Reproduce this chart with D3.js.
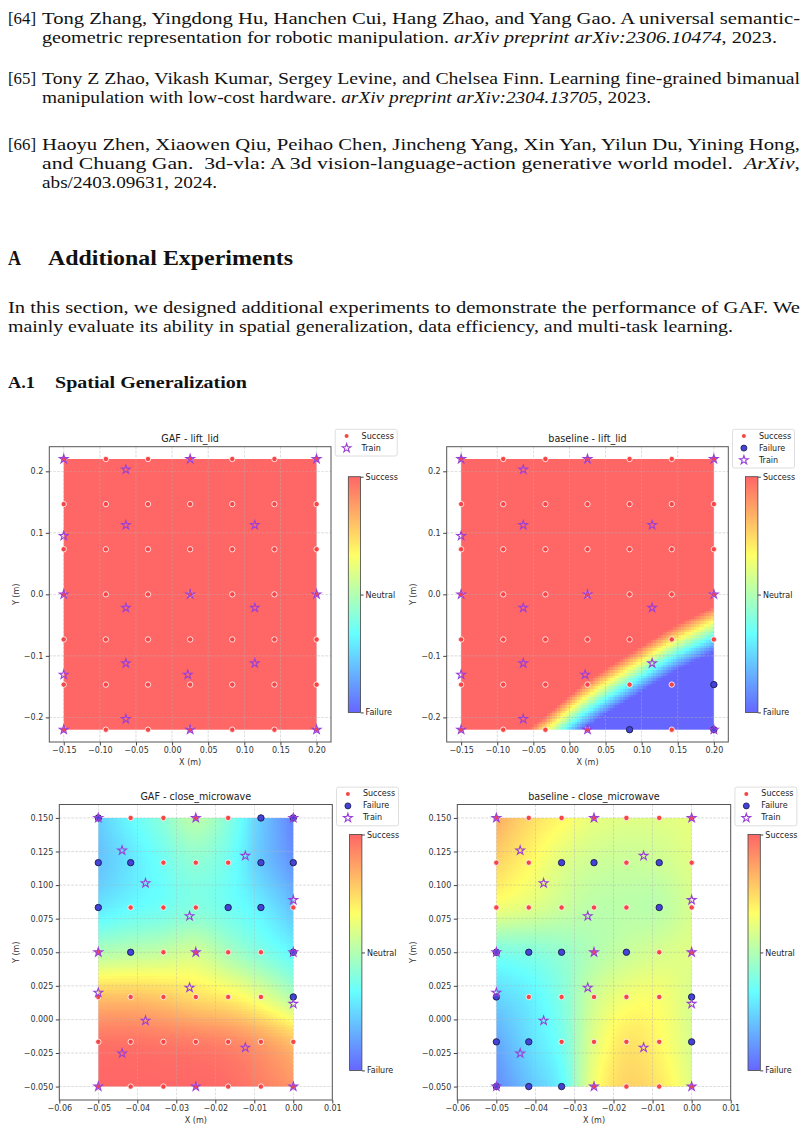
<!DOCTYPE html>
<html>
<head>
<meta charset="utf-8">
<script src="https://cdn.jsdelivr.net/npm/d3@7"></script>
<style>
  body { margin: 0; background: #fff; }
  svg { display: block; }
  text { white-space: pre; }
</style>
</head>
<body>
<svg id="page" width="808" height="1132"></svg>
<script>
// ---- test grid positions ----
const liftX = [-0.15, -0.0917, -0.0333, 0.025, 0.0833, 0.1417, 0.20];
const liftY = [0.22, 0.1467, 0.0733, 0, -0.0733, -0.1467, -0.22];
const microX = [-0.05, -0.0417, -0.0333, -0.025, -0.0167, -0.0083, 0];
const microY = [0.15, 0.1167, 0.0833, 0.05, 0.0167, -0.0167, -0.05];

// ---- outcomes per grid row (top row first), S = success, F = failure ----
const gafLiftOutcome = ['SSSSSSS', 'SSSSSSS', 'SSSSSSS', 'SSSSSSS', 'SSSSSSS', 'SSSSSSS', 'SSSSSSS'];
const baseLiftOutcome = ['SSSSSSS', 'SSSSSSS', 'SSSSSSS', 'SSSSSSS', 'SSSSSSS', 'SSSSSSF', 'SSSSFSF'];
const gafMicroOutcome = ['FSSSSFF', 'FFSSSFF', 'FSSSFFS', 'SFSSSSF', 'SSSSSSF', 'SSSSSSS', 'SSSSSSS'];
const baseMicroOutcome = ['SSSSSSS', 'SSFFSFS', 'SSSSSFS', 'FFFSFSS', 'FSSSSSF', 'FFSSSSF', 'FFFSSSS'];

// ---- training positions ----
const liftTrainX = [-0.15, 0.025, 0.2, -0.064, -0.064, 0.1145, -0.15, -0.15, 0.025, 0.2, -0.064, 0.1145, -0.064, 0.1145, -0.15, 0.0217, -0.064, -0.15, 0.025, 0.2];
const liftTrainY = [0.22, 0.22, 0.22, 0.2028, 0.1126, 0.1126, 0.095, 0, 0, 0, -0.0218, -0.0218, -0.112, -0.112, -0.1306, -0.1306, -0.2026, -0.22, -0.22, -0.22];
const microTrainX = [-0.05, -0.025, 0, -0.0439, -0.0123, -0.0379, 0, -0.0266, -0.05, -0.025, 0, -0.05, -0.0266, 0, -0.0379, -0.0123, -0.0439, -0.05, -0.025, 0];
const microTrainY = [0.15, 0.15, 0.15, 0.1258, 0.1218, 0.1014, 0.0889, 0.0769, 0.05, 0.05, 0.05, 0.0199, 0.0236, 0.0116, -0.0009, -0.021, -0.0253, -0.05, -0.05, -0.05];

// ---- interpolated success score at the grid points (1 success, 0 failure; clipped) ----
const gafLiftField = [
  [1, 1, 1, 1, 1, 1, 1], [1, 1, 1, 1, 1, 1, 1], [1, 1, 1, 1, 1, 1, 1], [1, 1, 1, 1, 1, 1, 1],
  [1, 1, 1, 1, 1, 1, 1], [1, 1, 1, 1, 1, 1, 1], [1, 1, 1, 1, 1, 1, 1]];
const baseLiftField = [
  [8.14, 7.39, 6.63, 5.87, 5.27, 4.70, 4.23],
  [7.15, 6.40, 5.64, 4.88, 4.28, 3.71, 3.24],
  [6.16, 5.40, 4.65, 3.89, 3.29, 2.72, 2.25],
  [5.17, 4.42, 3.66, 2.90, 2.30, 1.73, 1.26],
  [4.18, 3.43, 2.67, 1.91, 1.31, 0.74, 0.27],
  [3.19, 2.43, 1.68, 0.92, 0.32, -0.25, -0.72],
  [2.20, 1.45, 0.69, -0.07, -0.67, -1.24, -1.71]];
const gafMicroField = [
  [0.22, 0.33, 0.42, 0.52, 0.40, 0.22, 0.06],
  [0.20, 0.28, 0.36, 0.42, 0.36, 0.22, 0.10],
  [0.28, 0.33, 0.36, 0.40, 0.36, 0.30, 0.20],
  [0.50, 0.52, 0.54, 0.57, 0.48, 0.40, 0.32],
  [0.80, 0.80, 0.78, 0.74, 0.70, 0.62, 0.50],
  [0.97, 0.97, 0.96, 0.95, 0.93, 0.88, 0.80],
  [1.00, 1.00, 1.00, 1.00, 0.99, 0.95, 0.90]];
const baseMicroField = [
  [0.85, 0.75, 0.68, 0.62, 0.60, 0.60, 0.62],
  [0.76, 0.68, 0.60, 0.56, 0.55, 0.56, 0.60],
  [0.64, 0.60, 0.55, 0.52, 0.52, 0.52, 0.58],
  [0.38, 0.40, 0.44, 0.50, 0.55, 0.58, 0.60],
  [0.24, 0.30, 0.40, 0.56, 0.64, 0.65, 0.58],
  [0.14, 0.26, 0.37, 0.60, 0.72, 0.68, 0.58],
  [0.08, 0.20, 0.32, 0.64, 0.76, 0.72, 0.60]];

// ---- axes ticks ----
const liftXTicks = [-0.15, -0.10, -0.05, 0, 0.05, 0.10, 0.15, 0.20];
const liftYTicks = [-0.2, -0.1, 0, 0.1, 0.2];
const microXTicks = [-0.06, -0.05, -0.04, -0.03, -0.02, -0.01, 0, 0.01];
const microYTicks = [-0.05, -0.025, 0, 0.025, 0.05, 0.075, 0.1, 0.125, 0.15];
const cbarLabels = ['Failure', 'Neutral', 'Success'];

// ---- page text ----
const refs = [
  { label: '[64]', lines: [
    [{ t: 'Tong Zhang, Yingdong Hu, Hanchen Cui, Hang Zhao, and Yang Gao. A universal semantic-' }],
    [{ t: 'geometric representation for robotic manipulation. ' }, { t: 'arXiv preprint arXiv:2306.10474', i: 1 }, { t: ', 2023.' }]] },
  { label: '[65]', lines: [
    [{ t: 'Tony Z Zhao, Vikash Kumar, Sergey Levine, and Chelsea Finn. Learning fine-grained bimanual' }],
    [{ t: 'manipulation with low-cost hardware. ' }, { t: 'arXiv preprint arXiv:2304.13705', i: 1 }, { t: ', 2023.' }]] },
  { label: '[66]', lines: [
    [{ t: 'Haoyu Zhen, Xiaowen Qiu, Peihao Chen, Jincheng Yang, Xin Yan, Yilun Du, Yining Hong,' }],
    [{ t: 'and Chuang Gan.  3d-vla: A 3d vision-language-action generative world model.  ' }, { t: 'ArXiv', i: 1 }, { t: ',' }],
    [{ t: 'abs/2403.09631, 2024.' }]] }
];
const refLayout = [
  { y: [24, 43], ends: [800, 777] },
  { y: [84, 103], ends: [800, 651] },
  { y: [150, 169, 188], ends: [800, 800, 217] }
];
const paraLines = [
  'In this section, we designed additional experiments to demonstrate the performance of GAF. We',
  'mainly evaluate its ability in spatial generalization, data efficiency, and multi-task learning.'];

const svg = d3.select('#page');
const SANS = '"DejaVu Sans", sans-serif';

// pick the first Times-like face that is really installed
function pickSerif() {
  const ctx = document.createElement('canvas').getContext('2d');
  const probe = 'mmmmmwwwwwlllliiiAaBbQq0123';
  const w = f => { ctx.font = '40px ' + f; return ctx.measureText(probe).width; };
  const cands = ['Liberation Serif', 'Tinos', 'Times New Roman', 'Nimbus Roman', 'Nimbus Roman No9 L', 'FreeSerif', 'Noto Serif'];
  for (const c of cands) {
    if (w(`"${c}", monospace`) === w(`"${c}", sans-serif`)) return `"${c}", serif`;
  }
  return 'serif';
}
const SERIF = pickSerif();

function drawLine(x0, x1, y, segs, size, weight) {
  const nodes = segs.map(s => svg.append('text').attr('y', y).style('font-family', SERIF)
    .style('font-size', size + 'px').style('font-weight', weight || 400)
    .style('font-style', s.i ? 'italic' : 'normal').attr('fill', '#111').text(s.t));
  const widths = nodes.map(n => n.node().getComputedTextLength());
  const k = (x1 - x0) / d3.sum(widths);
  let cx = x0;
  nodes.forEach((n, i) => {
    n.attr('x', cx).attr('textLength', widths[i] * k).attr('lengthAdjust', 'spacingAndGlyphs');
    cx += widths[i] * k;
  });
}

refs.forEach((r, ri) => {
  const L = refLayout[ri];
  drawLine(8, 36, L.y[0], [{ t: r.label }], 17.5);
  r.lines.forEach((segs, li) => drawLine(42, L.ends[li], L.y[li], segs, 17.5));
});
drawLine(8, 21, 265, [{ t: 'A' }], 22, 700);
drawLine(48, 293, 265, [{ t: 'Additional Experiments' }], 22, 700);
drawLine(8, 800, 313, [{ t: paraLines[0] }], 17.5);
drawLine(8, 733, 332, [{ t: paraLines[1] }], 17.5);
drawLine(8, 35, 388, [{ t: 'A.1' }], 17.5, 700);
drawLine(55, 247, 388, [{ t: 'Spatial Generalization' }], 17.5, 700);

// ---- colormap: blue -> cyan -> yellow -> red at alpha 0.6 over white ----
const cmap = d3.scaleLinear().domain([0, 1 / 3, 2 / 3, 1])
  .range(['#6666ff', '#66ffff', '#ffff66', '#ff6666']).clamp(true);

function fieldURL(grid, nx, ny) {
  const R = grid.length, C = grid[0].length;
  const g = (r, c) => {
    if (r < 0) return 2 * g(0, c) - g(1, c);
    if (r >= R) return 2 * g(R - 1, c) - g(R - 2, c);
    if (c < 0) return 2 * g(r, 0) - g(r, 1);
    if (c >= C) return 2 * g(r, C - 1) - g(r, C - 2);
    return grid[r][c];
  };
  const cr = (p0, p1, p2, p3, t) => 0.5 * (2 * p1 + (-p0 + p2) * t + (2 * p0 - 5 * p1 + 4 * p2 - p3) * t * t + (-p0 + 3 * p1 - 3 * p2 + p3) * t * t * t);
  const cv = document.createElement('canvas');
  cv.width = nx; cv.height = ny;
  const ctx = cv.getContext('2d');
  const img = ctx.createImageData(nx, ny);
  for (let j = 0; j < ny; j++) {
    const v = (j + 0.5) / ny * (R - 1);
    const r0 = Math.min(Math.floor(v), R - 2), tv = v - r0;
    for (let i = 0; i < nx; i++) {
      const u = (i + 0.5) / nx * (C - 1);
      const c0 = Math.min(Math.floor(u), C - 2), tu = u - c0;
      const rows = [-1, 0, 1, 2].map(d => cr(g(r0 + d, c0 - 1), g(r0 + d, c0), g(r0 + d, c0 + 1), g(r0 + d, c0 + 2), tu));
      const val = Math.max(0, Math.min(1, cr(rows[0], rows[1], rows[2], rows[3], tv)));
      const col = d3.rgb(cmap(val));
      const p = (j * nx + i) * 4;
      img.data[p] = col.r; img.data[p + 1] = col.g; img.data[p + 2] = col.b; img.data[p + 3] = 255;
    }
  }
  ctx.putImageData(img, 0, 0);
  return cv.toDataURL();
}

const panels = [
  { title: 'GAF - lift_lid', xs: liftX, ys: liftY, outcome: gafLiftOutcome, field: gafLiftField,
    trainX: liftTrainX, trainY: liftTrainY, xDom: [-0.17, 0.22], yDom: [-0.24, 0.24],
    xTicks: liftXTicks, yTicks: liftYTicks, xFmt: '.2f', yFmt: '.1f',
    box: [49.3, 446.7, 331, 742], ylab: 16 },
  { title: 'baseline - lift_lid', xs: liftX, ys: liftY, outcome: baseLiftOutcome, field: baseLiftField,
    trainX: liftTrainX, trainY: liftTrainY, xDom: [-0.17, 0.22], yDom: [-0.24, 0.24],
    xTicks: liftXTicks, yTicks: liftYTicks, xFmt: '.2f', yFmt: '.1f',
    box: [446.7, 446.7, 728.3, 742], ylab: 413 },
  { title: 'GAF - close_microwave', xs: microX, ys: microY, outcome: gafMicroOutcome, field: gafMicroField,
    trainX: microTrainX, trainY: microTrainY, xDom: [-0.06, 0.01], yDom: [-0.06, 0.16],
    xTicks: microXTicks, yTicks: microYTicks, xFmt: '.2f', yFmt: '.3f',
    box: [59.3, 804.5, 332.3, 1100], ylab: 16 },
  { title: 'baseline - close_microwave', xs: microX, ys: microY, outcome: baseMicroOutcome, field: baseMicroField,
    trainX: microTrainX, trainY: microTrainY, xDom: [-0.06, 0.01], yDom: [-0.06, 0.16],
    xTicks: microXTicks, yTicks: microYTicks, xFmt: '.2f', yFmt: '.3f',
    box: [457.3, 804.5, 730.7, 1100], ylab: 413 }
];

const defs = svg.append('defs');
const grad = defs.append('linearGradient').attr('id', 'cbar').attr('x1', 0).attr('y1', 1).attr('x2', 0).attr('y2', 0);
cmap.domain().forEach(d => grad.append('stop').attr('offset', d).attr('stop-color', cmap(d)));

const star = d3.symbol(d3.symbolStar, 23.8);
const SUCC = '#f54545', FAIL = '#4343d9', TRAIN = '#9a40d8';

panels.forEach(p => {
  const [L, T, Rr, B] = p.box;
  const x = d3.scaleLinear().domain(p.xDom).range([L, Rr]);
  const y = d3.scaleLinear().domain(p.yDom).range([B, T]);
  const g = svg.append('g');

  // field
  const fx0 = x(p.xs[0]), fx1 = x(p.xs[p.xs.length - 1]);
  const fy0 = y(p.ys[0]), fy1 = y(p.ys[p.ys.length - 1]);
  g.append('image').attr('href', fieldURL(p.field, 100, 100))
    .attr('x', fx0).attr('y', fy0).attr('width', fx1 - fx0).attr('height', fy1 - fy0)
    .attr('preserveAspectRatio', 'none').style('image-rendering', 'pixelated');

  // grid
  g.append('g').selectAll('line').data(p.xTicks).join('line')
    .attr('x1', d => x(d)).attr('x2', d => x(d)).attr('y1', T).attr('y2', B);
  g.append('g').selectAll('line').data(p.yTicks).join('line')
    .attr('x1', L).attr('x2', Rr).attr('y1', d => y(d)).attr('y2', d => y(d));
  g.selectAll('g line').attr('stroke', '#b4b4b4').attr('stroke-width', 0.6)
    .attr('stroke-dasharray', '2.6,1.4').attr('opacity', 0.8);

  // test points
  const pts = [];
  p.outcome.forEach((row, ri) => row.split('').forEach((o, ci) => pts.push({ x: p.xs[ci], y: p.ys[ri], o })));
  g.append('g').selectAll('circle').data(pts.filter(d => d.o === 'S')).join('circle')
    .attr('cx', d => x(d.x)).attr('cy', d => y(d.y)).attr('r', 2.7)
    .attr('fill', SUCC).attr('stroke', '#fff').attr('stroke-width', 0.8);
  g.append('g').selectAll('circle').data(pts.filter(d => d.o === 'F')).join('circle')
    .attr('cx', d => x(d.x)).attr('cy', d => y(d.y)).attr('r', 3.2)
    .attr('fill', FAIL).attr('stroke', '#1b1b45').attr('stroke-width', 0.9);
  g.append('g').selectAll('path').data(p.trainX.map((v, i) => [v, p.trainY[i]])).join('path')
    .attr('d', star).attr('transform', d => `translate(${x(d[0])},${y(d[1])})`)
    .attr('fill', 'none').attr('stroke', TRAIN).attr('stroke-width', 1.1);

  // frame and axes
  g.append('rect').attr('x', L).attr('y', T).attr('width', Rr - L).attr('height', B - T)
    .attr('fill', 'none').attr('stroke', '#555').attr('stroke-width', 1);
  const ax = g.append('g').attr('transform', `translate(0,${B})`)
    .call(d3.axisBottom(x).tickValues(p.xTicks).tickFormat(d3.format(p.xFmt)).tickSize(3.5).tickPadding(2));
  const ay = g.append('g').attr('transform', `translate(${L},0)`)
    .call(d3.axisLeft(y).tickValues(p.yTicks).tickFormat(d3.format(p.yFmt)).tickSize(3.5).tickPadding(2.5));
  [ax, ay].forEach(a => {
    a.select('.domain').remove();
    a.attr('font-family', SANS).attr('font-size', 8);
    a.selectAll('line').attr('stroke', '#444');
    a.selectAll('text').attr('fill', '#333');
  });

  g.append('text').attr('x', (L + Rr) / 2).attr('y', T - 8.5).attr('text-anchor', 'middle')
    .attr('dominant-baseline', 'central').attr('font-family', SANS).attr('font-size', 9.6)
    .attr('fill', '#222').text(p.title);
  g.append('text').attr('x', (L + Rr) / 2).attr('y', B + 20.3).attr('text-anchor', 'middle')
    .attr('dominant-baseline', 'central').attr('font-family', SANS).attr('font-size', 8)
    .attr('fill', '#333').text('X (m)');
  g.append('text').attr('transform', `translate(${p.ylab},${(T + B) / 2}) rotate(-90)`)
    .attr('text-anchor', 'middle').attr('dominant-baseline', 'central')
    .attr('font-family', SANS).attr('font-size', 8).attr('fill', '#333').text('Y (m)');

  // legend
  const items = [{ k: 'S', t: 'Success' }];
  if (pts.some(d => d.o === 'F')) items.push({ k: 'F', t: 'Failure' });
  items.push({ k: 'T', t: 'Train' });
  const lx = Rr + 4.2, ly = T - 17.4;
  const lg = g.append('g');
  lg.append('rect').attr('x', lx).attr('y', ly).attr('width', 62).attr('height', 2.7 + 12 * items.length)
    .attr('rx', 2).attr('fill', '#fff').attr('stroke', '#d6d6d6').attr('stroke-width', 0.8);
  items.forEach((it, i) => {
    const cy = ly + 6.8 + 12 * i, mx = lx + 11.4;
    if (it.k === 'S') lg.append('circle').attr('cx', mx).attr('cy', cy).attr('r', 2).attr('fill', SUCC);
    if (it.k === 'F') lg.append('circle').attr('cx', mx).attr('cy', cy).attr('r', 3)
      .attr('fill', FAIL).attr('stroke', '#1b1b45').attr('stroke-width', 0.8);
    if (it.k === 'T') lg.append('path').attr('d', star).attr('transform', `translate(${mx},${cy})`)
      .attr('fill', 'none').attr('stroke', TRAIN).attr('stroke-width', 1.1);
    lg.append('text').attr('x', lx + 26.4).attr('y', cy).attr('dominant-baseline', 'central')
      .attr('font-family', SANS).attr('font-size', 8).attr('fill', '#222').text(it.t);
  });

  // colorbar
  const cbx = Rr + 17.3, cbw = 12.3, cbt = T + 30, cbb = B - 29.6;
  const cy = d3.scaleLinear().domain([0, 1]).range([cbb, cbt]);
  g.append('rect').attr('x', cbx).attr('y', cbt).attr('width', cbw).attr('height', cbb - cbt)
    .attr('fill', 'url(#cbar)').attr('stroke', '#444').attr('stroke-width', 0.8);
  const cax = g.append('g').attr('transform', `translate(${cbx + cbw},0)`)
    .call(d3.axisRight(cy).tickValues([0, 0.5, 1]).tickFormat((d, i) => cbarLabels[i]).tickSize(3).tickPadding(2));
  cax.select('.domain').remove();
  cax.attr('font-family', SANS).attr('font-size', 8);
  cax.selectAll('line').attr('stroke', '#444');
  cax.selectAll('text').attr('fill', '#222');
});
</script>
</body>
</html>
